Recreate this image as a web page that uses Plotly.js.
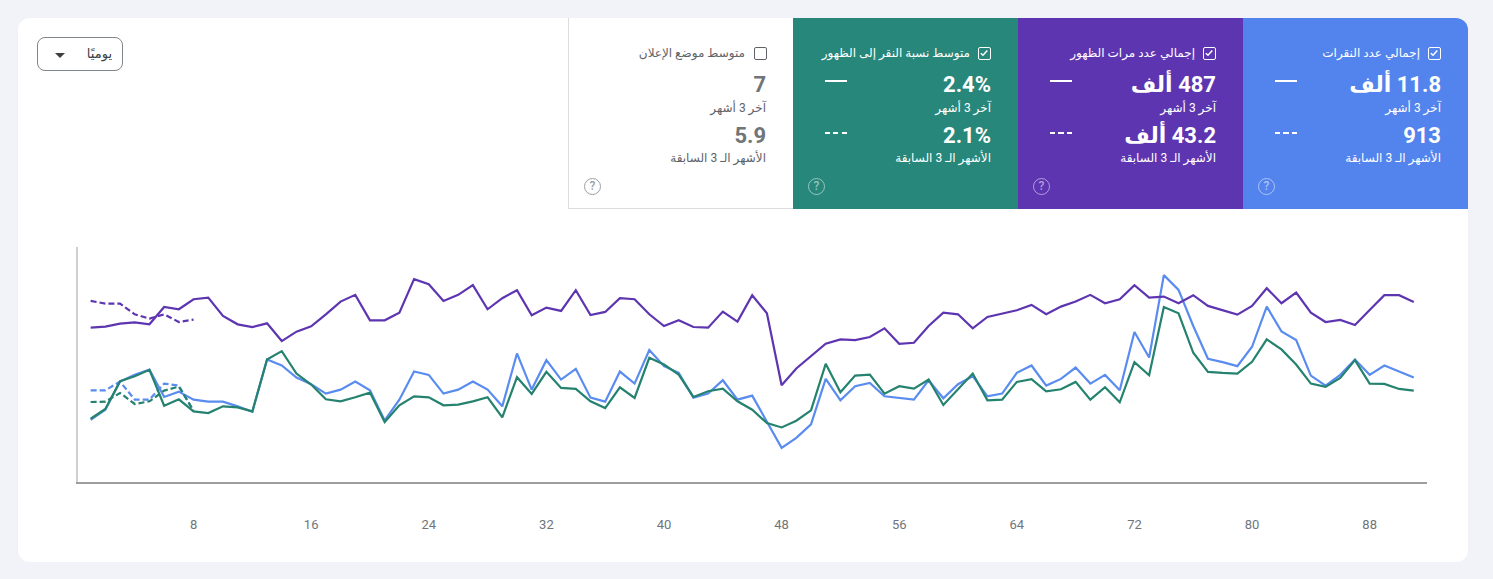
<!DOCTYPE html>
<html lang="ar">
<head>
<meta charset="utf-8">
<script src="https://cdn.plot.ly/plotly-3.0.1.min.js"></script>
<style>
  body { margin: 0; width: 1493px; height: 579px; overflow: hidden; position: relative;
         background: #f1f3f8; font-family: Roboto, "DejaVu Sans", sans-serif; }
  .panel { position: absolute; left: 18px; top: 18px; width: 1450px; height: 544px;
           background: #fff; border-radius: 12px; }
  #chart { position: absolute; left: 0; top: 0; width: 1493px; height: 579px; }
  .dropdown { position: absolute; left: 37px; top: 37px; width: 86px; height: 34px; box-sizing: border-box;
              border: 1px solid #80868b; border-radius: 8px; }
  .dropdown .lbl { position: absolute; right: 10px; top: 8px; font-size: 13px; line-height: 16px; color: #3c4043; }
  .dropdown .arrow { position: absolute; left: 17px; top: 15px; width: 0; height: 0;
                     border-left: 5px solid transparent; border-right: 5px solid transparent; border-top: 5px solid #3c4043; }
  .card { position: absolute; top: 18px; width: 225px; height: 191px; box-sizing: border-box; color: #fff; }
  .card.plain { background: #fff; border-left: 1px solid #dadce0; border-bottom: 1px solid #dadce0; color: #5f6368; }
  .card .box { position: absolute; left: 185px; top: 29px; width: 13px; height: 13px; box-sizing: border-box;
               border: 1.5px solid #fff; border-radius: 2px; }
  .card.plain .box { border-color: #5f6368; }
  .card .box svg { position: absolute; left: 0; top: 0; }
  .card .title { position: absolute; right: 48px; top: 28px; font-size: 12px; line-height: 15px; white-space: nowrap; }
  .card .val { position: absolute; right: 27px; font-size: 22px; line-height: 26px; font-weight: 700; white-space: nowrap; }
  .card.plain .val { color: #70757a; }
  .card .sub { position: absolute; right: 27px; font-size: 12px; line-height: 14px; white-space: nowrap; }
  .card .key { position: absolute; left: 32px; width: 22px; height: 2px; }
  .card .help { position: absolute; left: 15px; top: 160px; width: 17px; height: 17px; box-sizing: border-box;
                border: 1.5px solid rgba(255,255,255,0.5); border-radius: 50%; color: rgba(255,255,255,0.5);
                font-size: 12px; line-height: 14px; text-align: center; font-weight: 500; }
  .card.plain .help { border-color: #9aa0a6; color: #9aa0a6; }
</style>
</head>
<body>
<div class="panel"></div>
<div id="chart"></div>

<div class="dropdown"><span class="lbl" dir="rtl">يوميًا</span><span class="arrow"></span></div>
<div id="cards"></div>

<script>
    // day index on the x axis (last 3 months, daily)
    const days = Array.from({ length: 91 }, (v, k) => k + 1);
    const prevDays = [1, 2, 3, 4, 5, 6, 7, 8];
    const tickDays = [8, 16, 24, 32, 40, 48, 56, 64, 72, 80, 88];

    // total clicks per day
    const clicks = [
        93, 108, 150, 160, 168, 127, 135, 123, 120, 120,
        113, 105, 183, 174, 156, 146, 132, 138, 150, 137,
        92, 123, 165, 160, 132, 138, 150, 138, 113, 192,
        138, 182, 153, 169, 126, 120, 165, 147, 197, 173,
        163, 126, 132, 152, 123, 129, 90, 51, 66, 86,
        154, 122, 143, 148, 128, 126, 123, 152, 125, 146,
        158, 128, 132, 163, 174, 144, 154, 171, 147, 160,
        137, 224, 186, 309, 287, 233, 184, 179, 173, 202,
        262, 225, 212, 159, 144, 160, 183, 160, 174, 165,
        156
    ];
    const clicksPrev = [137, 137, 150, 123, 123, 147, 144, 106];

    // total impressions per day
    const impressions = [
        4610, 4640, 4730, 4770, 4710, 5230, 5160, 5460, 5510, 4960,
        4710, 4630, 4740, 4210, 4490, 4650, 5010, 5390, 5590, 4830,
        4830, 5060, 6060, 5910, 5410, 5590, 5880, 5160, 5490, 5730,
        4980, 5210, 5110, 5730, 4990, 5080, 5490, 5460, 5010, 4660,
        4830, 4630, 4610, 5090, 4790, 5580, 5040, 2890, 3390, 3760,
        4130, 4260, 4240, 4330, 4590, 4130, 4160, 4660, 5060, 5010,
        4590, 4930, 5040, 5130, 5290, 5010, 5240, 5390, 5590, 5340,
        5460, 5880, 5510, 5540, 5340, 5580, 5260, 5130, 5000, 5260,
        5790, 5340, 5660, 5060, 4780, 4840, 4690, 5140, 5580, 5580,
        5380
    ];
    const impressionsPrev = [5410, 5330, 5330, 5010, 4880, 5010, 4780, 4850];

    // average CTR per day (%)
    const ctr = [
        1.89, 2.18, 3.01, 3.16, 3.35, 2.28, 2.47, 2.11, 2.06, 2.26,
        2.23, 2.11, 3.66, 3.91, 3.24, 2.91, 2.47, 2.41, 2.53, 2.67,
        1.79, 2.29, 2.56, 2.53, 2.29, 2.31, 2.41, 2.53, 1.93, 3.13,
        2.63, 3.29, 2.81, 2.78, 2.41, 2.21, 2.83, 2.51, 3.71, 3.51,
        3.21, 2.54, 2.71, 2.79, 2.41, 2.16, 1.76, 1.63, 1.83, 2.14,
        3.53, 2.68, 3.18, 3.21, 2.64, 2.86, 2.79, 3.06, 2.30, 2.76,
        3.24, 2.44, 2.46, 2.99, 3.07, 2.71, 2.77, 2.99, 2.46, 2.83,
        2.38, 3.58, 3.19, 5.23, 5.04, 3.86, 3.29, 3.26, 3.24, 3.59,
        4.26, 3.96, 3.51, 2.94, 2.84, 3.11, 3.64, 2.94, 2.93, 2.78,
        2.73
    ];
    const ctrPrev = [2.39, 2.40, 2.66, 2.33, 2.41, 2.73, 2.85, 2.13];

    // scorecards, right to left
    const cardTitles = ["إجمالي عدد النقرات", "إجمالي عدد مرات الظهور", "متوسط نسبة النقر إلى الظهور", "متوسط موضع الإعلان"];
    const cardValues = ["11.8 ألف", "487 ألف", "2.4%", "7"];
    const cardPrevValues = ["913", "43.2 ألف", "2.1%", "5.9"];
    const cardChecked = [true, true, true, false];
    const cardColors = ["#5383ec", "#5e35b1", "#26877a", null];
    const lastLabel = "آخر 3 أشهر";
    const prevLabel = "الأشهر الـ 3 السابقة";

    const BLUE = "#5a8cf0";
    const PURPLE = "#5e35b1";
    const GREEN = "#25826f";

    function buildCards() {
        const wrap = document.getElementById("cards");
        let html = "";
        const check = '<svg width="10" height="10" viewBox="0 0 10 10"><path d="M1.8 5.2 L4 7.3 L8.3 2.6" fill="none" stroke="#fff" stroke-width="1.5"/></svg>';
        for (let i = 0; i < cardTitles.length; i++) {
            let left = 1243 - i * 225;
            let cls = cardColors[i] ? "card" : "card plain";
            let bg = cardColors[i] ? `background:${cardColors[i]};` : "";
            if (i === 0) bg += "border-top-right-radius:12px;";
            html += `<div class="${cls}" style="left:${left}px;${bg}">
                <div class="box">${cardChecked[i] ? check : ""}</div>
                <div class="title" dir="rtl">${cardTitles[i]}</div>
                <div class="val" dir="rtl" style="top:54px">${cardValues[i]}</div>
                <div class="sub" dir="rtl" style="top:83px">${lastLabel}</div>
                <div class="val" dir="rtl" style="top:105px">${cardPrevValues[i]}</div>
                <div class="sub" dir="rtl" style="top:133px">${prevLabel}</div>`;
            if (cardChecked[i]) {
                html += `<div class="key" style="top:62px;background:#fff"></div>
                <div class="key" style="top:114px;background:repeating-linear-gradient(to right,#fff 0 5px,transparent 5px 8.5px)"></div>`;
            }
            html += `<div class="help">?</div></div>`;
        }
        wrap.innerHTML = html;
    }

    function line(x, y, color, axis, dashed) {
        return {
            x: x, y: y, yaxis: axis,
            mode: "lines", type: "scatter",
            line: { color: color, width: 2.2, dash: dashed ? "6px,3px" : "solid", shape: "linear" },
            hoverinfo: "skip"
        };
    }

    function plotChart() {
        const traces = [
            line(prevDays, impressionsPrev, PURPLE, "y2", true),
            line(prevDays, ctrPrev, GREEN, "y3", true),
            line(prevDays, clicksPrev, BLUE, "y", true),
            line(days, ctr, GREEN, "y3", false),
            line(days, clicks, BLUE, "y", false),
            line(days, impressions, PURPLE, "y2", false)
        ];
        const layout = {
            width: 1493, height: 579,
            margin: { l: 78, r: 66, t: 247, b: 97 },
            paper_bgcolor: "rgba(0,0,0,0)",
            plot_bgcolor: "rgba(0,0,0,0)",
            showlegend: false,
            xaxis: {
                range: [0.14, 91.9],
                tickvals: tickDays,
                ticktext: tickDays.map(String),
                ticks: "",
                ticklabelstandoff: 30,
                showgrid: false, zeroline: false,
                showline: true, linecolor: "#9e9e9e", linewidth: 1.5,
                tickfont: { family: "Roboto, sans-serif", size: 13, color: "#70757a" }
            },
            yaxis: {
                range: [0, 351],
                showticklabels: false, ticks: "",
                showgrid: false, zeroline: false,
                showline: true, linecolor: "#cfcfcf", linewidth: 2
            },
            yaxis2: { range: [0, 7020], overlaying: "y", visible: false },
            yaxis3: { range: [0, 7.02], overlaying: "y", visible: false }
        };
        Plotly.newPlot("chart", traces, layout, { displayModeBar: false, staticPlot: true });
    }

    buildCards();
    plotChart();
</script>
</body>
</html>
